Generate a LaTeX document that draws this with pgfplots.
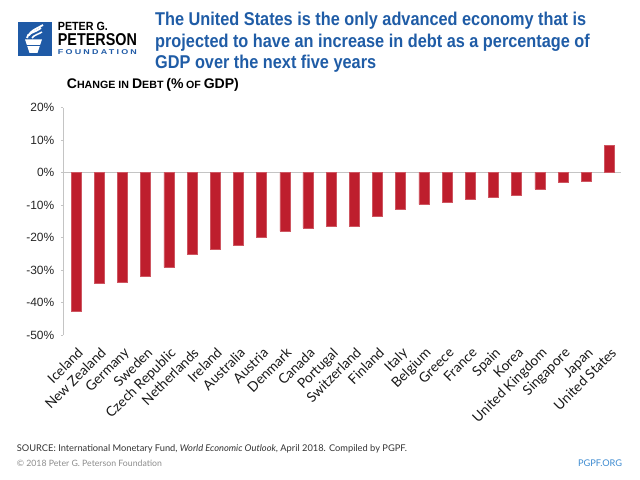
\documentclass[border=0pt]{standalone}
\usepackage{pgfplots}
\pgfplotsset{compat=1.18}
\usepackage{fontspec}
\usepackage{graphicx}
\setmainfont{Liberation Sans}
\newfontfamily\lato{Lato}
\definecolor{barred}{HTML}{BE1E2D}
\definecolor{titleblue}{HTML}{1F5CA6}
\definecolor{logoblue}{HTML}{1F5AA6}
\definecolor{linkblue}{HTML}{3C8AD0}
\definecolor{axisgray}{HTML}{C4C4C4}
\newlength\Lw
\begin{document}%
\settowidth\Lw{\fontsize{18.6}{21}\selectfont\bfseries The United States is the only advanced economy that is}%
\pgfmathsetmacro\tsx{432.6/\Lw}%
\begin{tikzpicture}
\begin{scope}[x=1bp,y=1bp]
\path[use as bounding box] (0,0) rectangle (640,480);
% logo
\fill[logoblue] (18,424) rectangle (51.7,457.7);
\fill[white] (25,440.5) -- (42,440.5) -- (37.5,427) -- (29.5,427) -- cycle;
\draw[logoblue, line width=0.8bp] (24,434.5) -- (43,434.5);
\draw[white, line width=1.8bp] (27,442) .. controls (27,447) and (34,447) .. (41,452);
\draw[white, line width=1.8bp] (29,444.5) .. controls (30,449) and (36,451) .. (43,455);
\draw[white, line width=1.5bp] (32,442) .. controls (34,445) and (39,446) .. (42,448);
\node[anchor=base west, inner sep=0] at (57.7,449.3) {\resizebox{50bp}{\height}{\fontsize{11.9}{12}\selectfont\bfseries PETER G.}};
\node[anchor=base west, inner sep=0] at (57.7,434.3) {\resizebox{79bp}{\height}{\fontsize{17.2}{18}\selectfont\bfseries PETERSON}};
\node[anchor=base west, inner sep=0, text=logoblue] at (57.7,425) {\resizebox{79bp}{\height}{\addfontfeatures{LetterSpace=25}\fontsize{7}{8}\selectfont\bfseries FOUNDATION}};
% title
\node[anchor=base west, inner sep=0, text=titleblue] at (155,454) {\scalebox{\tsx}[1]{\fontsize{18.6}{21}\selectfont\bfseries The United States is the only advanced economy that is}};
\node[anchor=base west, inner sep=0, text=titleblue] at (155,432.2) {\scalebox{\tsx}[1]{\fontsize{18.6}{21}\selectfont\bfseries projected to have an increase in debt as a percentage of}};
\node[anchor=base west, inner sep=0, text=titleblue] at (155,411) {\scalebox{\tsx}[1]{\fontsize{18.6}{21}\selectfont\bfseries GDP over the next five years}};
% subtitle
\node[anchor=base west, inner sep=0] at (66.7,391) {\resizebox{172bp}{\height}{\bfseries{\fontsize{14}{16}\selectfont C}{\fontsize{10.6}{12}\selectfont HANGE IN }{\fontsize{14}{16}\selectfont D}{\fontsize{10.6}{12}\selectfont EBT }{\fontsize{14}{16}\selectfont (\%\,}{\fontsize{10.6}{12}\selectfont OF }{\fontsize{14}{16}\selectfont GDP)}}};
% footer
\node[anchor=base west, inner sep=0, text=black!80] at (16.7,28) {\resizebox{390bp}{!}{\lato\fontsize{9}{10}\selectfont SOURCE: International Monetary Fund, \textit{World Economic Outlook}, April 2018. Compiled by PGPF.}};
\node[anchor=base west, inner sep=0, text=black!45] at (16.7,13) {\resizebox{145bp}{!}{\lato\fontsize{9}{10}\selectfont \textcopyright\ 2018 Peter G. Peterson Foundation}};
\node[anchor=base east, inner sep=0, text=linkblue] at (622.3,13) {\resizebox{44bp}{!}{\lato\fontsize{9}{10}\selectfont PGPF.ORG}};
\end{scope}
\begin{axis}[
  at={(63.3bp,145bp)}, anchor=south west,
  scale only axis, width=557.7bp, height=227.3bp,
  xmin=-0.55, xmax=23.5, ymin=-50, ymax=20,
  axis lines=left, axis line style={-, draw=axisgray, line width=0.8bp},
  x axis line style={draw=none},
  ybar, bar width=10bp,
  xtick=data,
  xticklabels={Iceland,New Zealand,Germany,Sweden,Czech Republic,Netherlands,Ireland,Australia,Austria,Denmark,Canada,Portugal,Switzerland,Finland,Italy,Belgium,Greece,France,Spain,Korea,United Kingdom,Singapore,Japan,United States},
  xtick style={draw=none},
  ytick={-50,-40,...,20},
  ytick style={draw=axisgray, line width=0.8bp},
  tick align=outside, major tick length=2.5bp,
  yticklabel={\pgfmathprintnumber{\tick}\%},
  yticklabel style={font=\fontsize{12}{14}\selectfont, text=black!85, /pgf/number format/assume math mode=true, xshift=-3bp},
  xticklabel style={xshift=0.5bp, yshift=-9bp, rotate=45, anchor=north east, inner sep=0pt, font=\lato\fontsize{13.8}{15}\selectfont, text=black!90},
  extra y ticks={0}, extra y tick labels={},
  extra y tick style={grid=major, major grid style={draw=axisgray, line width=1.2bp}, major tick length=0pt},
  clip=false,
]
\addplot[fill=barred, draw=barred!75!white, line width=0.5bp] coordinates {
(0,-42.6) (1,-34.1) (2,-33.8) (3,-31.8) (4,-29.2) (5,-25.0) (6,-23.5) (7,-22.4)
(8,-19.8) (9,-18.0) (10,-17.0) (11,-16.5) (12,-16.5) (13,-13.4) (14,-11.2) (15,-9.8)
(16,-9.1) (17,-8.1) (18,-7.5) (19,-6.9) (20,-5.1) (21,-3.1) (22,-2.8) (23,8.3)};
\end{axis}
\end{tikzpicture}%
\end{document}
